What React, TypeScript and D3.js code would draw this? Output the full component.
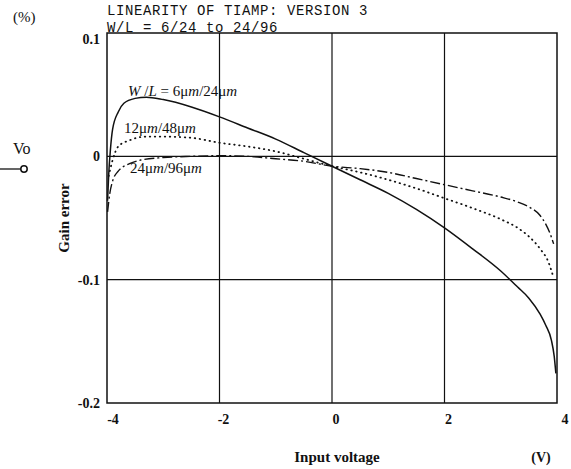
import * as d3 from "d3";

// tick values and grid positions
const xTicks = [-4, -2, 0, 2, 4];
const yTicks = [0.1, 0, -0.1, -0.2];
const xGrid = [-2, 0, 2];
const yGrid = [0, -0.1];

// W/L = 6um/24um (solid)
const solidV = [-3.99, -3.97, -3.94, -3.9, -3.8, -3.7, -3.5, -3.3, -3.0, -2.5, -2.0, -1.5, -1.0, -0.5, 0, 0.5, 1.0, 1.5, 2.0, 2.5, 3.0, 3.3, 3.5, 3.7, 3.8, 3.9, 3.95, 3.98];
const solidE = [-0.036, -0.015, 0.005, 0.022, 0.036, 0.043, 0.047, 0.048, 0.046, 0.04, 0.032, 0.023, 0.014, 0.003, -0.008, -0.019, -0.03, -0.043, -0.058, -0.075, -0.093, -0.106, -0.115, -0.128, -0.137, -0.149, -0.162, -0.176];

// 12um/48um (dotted)
const dotV = [-3.97, -3.9, -3.8, -3.6, -3.3, -3.0, -2.5, -2.0, -1.5, -1.0, -0.5, 0, 0.5, 1.0, 1.5, 2.0, 2.5, 3.0, 3.3, 3.5, 3.7, 3.85, 3.93];
const dotE = [-0.016, -0.003, 0.008, 0.013, 0.016, 0.016, 0.015, 0.011, 0.008, 0.004, -0.002, -0.008, -0.013, -0.019, -0.026, -0.034, -0.042, -0.051, -0.058, -0.065, -0.075, -0.086, -0.097];

// 24um/96um (dash-dot)
const dashV = [-3.99, -3.95, -3.9, -3.8, -3.6, -3.4, -3.0, -2.5, -2.0, -1.5, -1.0, -0.5, 0, 0.5, 1.0, 1.5, 2.0, 2.5, 3.0, 3.3, 3.5, 3.7, 3.8, 3.88, 3.94];
const dashE = [-0.045, -0.03, -0.02, -0.012, -0.006, -0.003, -0.001, 0, 0.0005, 0, -0.002, -0.004, -0.008, -0.01, -0.013, -0.018, -0.023, -0.028, -0.033, -0.037, -0.041, -0.048, -0.055, -0.063, -0.071];

const serif = "'Liberation Serif', 'Times New Roman', serif";
const mono = "'Liberation Mono', 'Courier New', monospace";

export default function App() {
  const width = 571;
  const height = 469;
  const left = 107;
  const right = 557;
  const top = 33;
  const bottom = 403;

  const x = d3.scaleLinear().domain([-4, 4]).range([left, right]);
  const y = d3.scaleLinear().domain([-0.2, 0.1]).range([bottom, top]);

  const line = (vs: number[], es: number[]) =>
    d3
      .line<number>()
      .x((v) => x(v))
      .y((_, i) => y(es[i]))
      .curve(d3.curveMonotoneX)(vs) || "";

  return (
    <svg
      width={width}
      height={height}
      style={{ position: "absolute", left: 0, top: 0, background: "#fff" }}
    >
      {/* titles */}
      <text x={107} y={15} fontFamily={mono} fontSize={14} letterSpacing={0.6} fill="#111">
        LINEARITY OF TIAMP: VERSION 3
      </text>
      <text x={107} y={32} fontFamily={mono} fontSize={14} letterSpacing={0.6} fill="#111">
        W/L = 6/24 to 24/96
      </text>
      <text x={13} y={22} fontFamily={serif} fontSize={15} fill="#111">
        (%)
      </text>

      {/* Vo terminal */}
      <text x={13} y={154} fontFamily={serif} fontSize={16} fill="#111">
        Vo
      </text>
      <line x1={0} x2={21} y1={169} y2={169} stroke="#111" strokeWidth={1.3} />
      <circle cx={24} cy={169} r={3.2} fill="#fff" stroke="#111" strokeWidth={1.5} />

      {/* grid */}
      {xGrid.map((v) => (
        <line key={"gx" + v} x1={x(v)} x2={x(v)} y1={top} y2={bottom} stroke="#111" strokeWidth={1.2} />
      ))}
      {yGrid.map((v) => (
        <line key={"gy" + v} x1={left} x2={right} y1={y(v)} y2={y(v)} stroke="#111" strokeWidth={1.3} />
      ))}
      <rect x={left} y={top} width={right - left} height={bottom - top} fill="none" stroke="#111" strokeWidth={1.5} />

      {/* tick labels */}
      {yTicks.map((v) => (
        <text
          key={"ty" + v}
          x={100}
          y={y(v) + (v === 0.1 ? 6 : 0)}
          dy="0.35em"
          textAnchor="end"
          fontFamily={serif}
          fontSize={14}
          fontWeight="bold"
          fill="#111"
        >
          {v === 0 ? "0" : String(v)}
        </text>
      ))}
      {xTicks.map((v) => (
        <text
          key={"tx" + v}
          x={x(v) + (v === -4 ? 6 : v === 4 ? 8 : 4)}
          y={424}
          textAnchor="middle"
          fontFamily={serif}
          fontSize={14}
          fontWeight="bold"
          fill="#111"
        >
          {String(v)}
        </text>
      ))}

      {/* axis titles */}
      <text x={337} y={462} textAnchor="middle" fontFamily={serif} fontSize={15} fontWeight="bold" fill="#111">
        Input voltage
      </text>
      <text x={541} y={462} textAnchor="middle" fontFamily={serif} fontSize={14} fontWeight="bold" fill="#111">
        (V)
      </text>
      <text
        transform="translate(69,218) rotate(-90)"
        textAnchor="middle"
        fontFamily={serif}
        fontSize={15}
        fontWeight="bold"
        fill="#111"
      >
        Gain error
      </text>

      {/* curves */}
      <path d={line(solidV, solidE)} fill="none" stroke="#111" strokeWidth={1.5} />
      <path
        d={line(dotV, dotE)}
        fill="none"
        stroke="#111"
        strokeWidth={1.8}
        strokeDasharray="0.5,4.5"
        strokeLinecap="round"
      />
      <path
        d={line(dashV, dashE)}
        fill="none"
        stroke="#111"
        strokeWidth={1.4}
        strokeDasharray="10,3,2,3"
      />

      {/* curve labels */}
      <text x={128} y={96} fontFamily={serif} fontSize={15} fill="#111">
        <tspan fontStyle="italic">W</tspan>
        <tspan> /</tspan>
        <tspan fontStyle="italic">L</tspan>
        <tspan> = 6μ</tspan>
        <tspan fontStyle="italic">m</tspan>
        <tspan>/24μ</tspan>
        <tspan fontStyle="italic">m</tspan>
      </text>
      <text x={124} y={133} fontFamily={serif} fontSize={15} fill="#111">
        <tspan>12μ</tspan>
        <tspan fontStyle="italic">m</tspan>
        <tspan>/48μ</tspan>
        <tspan fontStyle="italic">m</tspan>
      </text>
      <text x={130} y={173} fontFamily={serif} fontSize={15} fill="#111">
        <tspan>24μ</tspan>
        <tspan fontStyle="italic">m</tspan>
        <tspan>/96μ</tspan>
        <tspan fontStyle="italic">m</tspan>
      </text>
    </svg>
  );
}
